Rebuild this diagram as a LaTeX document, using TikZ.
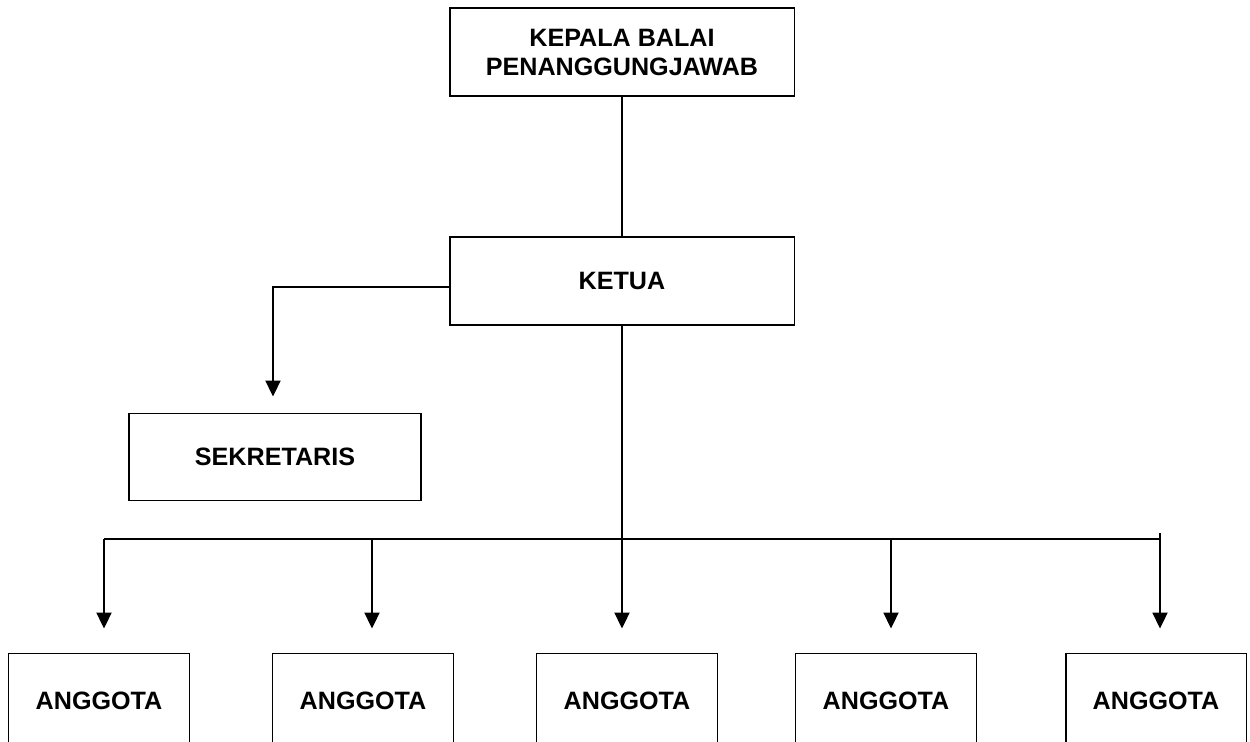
\documentclass[tikz,border=0pt]{standalone}
\usepackage{fontspec}
\setmainfont{Liberation Sans}
\usetikzlibrary{arrows.meta,positioning}

\begin{document}
\begin{tikzpicture}[x=0.02cm,y=-0.02cm,
  box/.style={draw,line width=1.1pt,align=center,inner sep=0pt,
              font=\fontsize{14.3}{16.5}\selectfont\bfseries},
  ar/.style={-{Triangle[width=0.3cm,length=0.32cm]},line width=1.1pt},
  ln/.style={line width=1.1pt}]
\useasboundingbox (0,0) rectangle (1250,741);
\clip (0,0) rectangle (1250,741);
\node[box,minimum width=6.9cm,minimum height=1.76cm] (kepala) at (622,52) {KEPALA BALAI\\PENANGGUNGJAWAB};
\node[box,minimum width=6.9cm,minimum height=1.76cm] (ketua) at (622,281) {KETUA};
\node[box,minimum width=5.84cm,minimum height=1.74cm] (sekretaris) at (275,457) {SEKRETARIS};
\node[box,minimum width=3.62cm,minimum height=1.9cm] (anggota1) at (99,701) {ANGGOTA};
\node[box,minimum width=3.62cm,minimum height=1.9cm] (anggota2) at (363,701) {ANGGOTA};
\node[box,minimum width=3.62cm,minimum height=1.9cm] (anggota3) at (627,701) {ANGGOTA};
\node[box,minimum width=3.62cm,minimum height=1.9cm] (anggota4) at (886,701) {ANGGOTA};
\node[box,minimum width=3.62cm,minimum height=1.9cm] (anggota5) at (1156,701) {ANGGOTA};
\coordinate (kiri) at (273,287);
\coordinate (b1) at (104,539);
\coordinate (b2) at (372,539);
\coordinate (b3) at (622,539);
\coordinate (b4) at (891,539);
\coordinate (b5) at (1160,539);
\draw[ln] (kepala) -- (ketua);
\draw[ar,shorten >=0.32cm] (ketua.west |- kiri) -- (kiri) -- (kiri |- sekretaris.north);
\draw[ln] (ketua) -- (b3);
\draw[ln] (b1) -- (b5) -- ++(0,-6);
\draw[ar,shorten >=0.48cm] (b1) -- (b1 |- anggota1.north);
\draw[ar,shorten >=0.48cm] (b2) -- (b2 |- anggota2.north);
\draw[ar,shorten >=0.48cm] (b3) -- (b3 |- anggota3.north);
\draw[ar,shorten >=0.48cm] (b4) -- (b4 |- anggota4.north);
\draw[ar,shorten >=0.48cm] (b5) -- (b5 |- anggota5.north);
\end{tikzpicture}
\end{document}
